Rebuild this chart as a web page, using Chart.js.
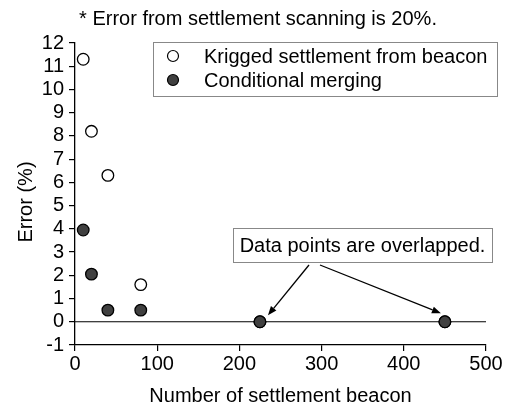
<!DOCTYPE html>
<html>
<head>
<meta charset="utf-8">
<script src="https://cdn.jsdelivr.net/npm/chart.js@4/dist/chart.umd.min.js"></script>
<style>
  html, body { margin: 0; padding: 0; background: #fff; }
  #wrap { width: 508px; height: 408px; position: relative; }
</style>
</head>
<body>
<div id="wrap"><canvas id="c" width="508" height="408"></canvas></div>
<script>
// Number of settlement beacons used for each estimate
const beaconCounts = [10, 20, 40, 80, 225, 450];
// Error (%) of kriged settlement from beacons
const krigedError = [11.3, 8.2, 6.3, 1.6, 0.0, 0.0];
// Error (%) of conditional merging
const mergingError = [3.95, 2.05, 0.5, 0.5, 0.0, 0.0];

const xTicks = [0, 100, 200, 300, 400, 500];
const yTicks = [-1, 0, 1, 2, 3, 4, 5, 6, 7, 8, 9, 10, 11, 12];

const seriesNames = ['Krigged settlement from beacon', 'Conditional merging'];
const noteText = '* Error from settlement scanning is 20%.';
const calloutText = 'Data points are overlapped.';
const yTitle = 'Error (%)';

const FONT = '"Liberation Sans", Arial, sans-serif';
const FONT_SIZE = 20;

const toPoints = (xs, ys) => xs.map((x, i) => ({ x: x, y: ys[i] }));

// Reference line at zero, note text, legend box and callout with arrows
const overlayPlugin = {
  id: 'overlay',
  beforeDatasetsDraw(chart) {
    const { ctx, chartArea, scales } = chart;
    const y0 = scales.y.getPixelForValue(0);
    ctx.save();
    ctx.strokeStyle = '#000';
    ctx.lineWidth = 1.1;
    ctx.beginPath();
    ctx.moveTo(chartArea.left, y0);
    ctx.lineTo(chartArea.right, y0);
    ctx.stroke();
    ctx.restore();
  },
  afterDraw(chart) {
    const { ctx, scales } = chart;
    ctx.save();
    ctx.font = FONT_SIZE + 'px ' + FONT;

    // note above the plot
    ctx.fillStyle = '#000';
    ctx.textAlign = 'center';
    ctx.textBaseline = 'middle';
    ctx.fillText(noteText, 258, 19);

    // y axis title
    ctx.save();
    ctx.translate(26, 202);
    ctx.rotate(-Math.PI / 2);
    ctx.fillText(yTitle, 0, 0);
    ctx.restore();

    // legend
    const lx = 153, ly = 42, lw = 344, lh = 54;
    ctx.fillStyle = '#fff';
    ctx.fillRect(lx, ly, lw, lh);
    ctx.strokeStyle = '#888';
    ctx.lineWidth = 1;
    ctx.strokeRect(lx + 0.5, ly + 0.5, lw, lh);
    chart.data.datasets.forEach((ds, i) => {
      const cy = ly + 14 + i * 24;
      ctx.beginPath();
      ctx.arc(lx + 20, cy, 5.5, 0, Math.PI * 2);
      ctx.fillStyle = ds.backgroundColor;
      ctx.fill();
      ctx.strokeStyle = '#000';
      ctx.lineWidth = 1.2;
      ctx.stroke();
      ctx.fillStyle = '#000';
      ctx.textAlign = 'left';
      ctx.textBaseline = 'middle';
      ctx.fillText(ds.label, lx + 51, cy + 1);
    });

    // callout box
    const bx = 233, by = 228, bw = 259, bh = 34;
    ctx.fillStyle = '#fff';
    ctx.fillRect(bx, by, bw, bh);
    ctx.strokeStyle = '#888';
    ctx.lineWidth = 1;
    ctx.strokeRect(bx + 0.5, by + 0.5, bw, bh);
    ctx.fillStyle = '#000';
    ctx.textAlign = 'center';
    ctx.textBaseline = 'middle';
    ctx.fillText(calloutText, bx + bw / 2, by + bh / 2 + 1);

    // arrows towards the overlapped points
    const arrow = (x1, y1, x2, y2) => {
      const ang = Math.atan2(y2 - y1, x2 - x1);
      const hl = 9, hw = 3.5;
      ctx.strokeStyle = '#000';
      ctx.fillStyle = '#000';
      ctx.lineWidth = 1.3;
      ctx.beginPath();
      ctx.moveTo(x1, y1);
      ctx.lineTo(x2 - Math.cos(ang) * hl, y2 - Math.sin(ang) * hl);
      ctx.stroke();
      ctx.beginPath();
      ctx.moveTo(x2, y2);
      ctx.lineTo(x2 - Math.cos(ang) * hl - Math.sin(ang) * hw, y2 - Math.sin(ang) * hl + Math.cos(ang) * hw);
      ctx.lineTo(x2 - Math.cos(ang) * hl + Math.sin(ang) * hw, y2 - Math.sin(ang) * hl - Math.cos(ang) * hw);
      ctx.closePath();
      ctx.fill();
    };
    const px1 = scales.x.getPixelForValue(beaconCounts[4]);
    const px2 = scales.x.getPixelForValue(beaconCounts[5]);
    const py = scales.y.getPixelForValue(0);
    arrow(309, 265, px1 + 8, py - 6.5);
    arrow(320, 265, px2 - 4, py - 8.5);

    ctx.restore();
  }
};

const axisFont = { family: FONT, size: FONT_SIZE };

new Chart(document.getElementById('c'), {
  type: 'scatter',
  data: {
    datasets: [
      {
        label: seriesNames[0],
        data: toPoints(beaconCounts, krigedError),
        backgroundColor: '#ffffff',
        borderColor: '#000000',
        borderWidth: 1.3,
        pointRadius: 5.8,
        pointHoverRadius: 5.8,
        order: 2
      },
      {
        label: seriesNames[1],
        data: toPoints(beaconCounts, mergingError),
        backgroundColor: '#404040',
        borderColor: '#000000',
        borderWidth: 1.3,
        pointRadius: 5.8,
        pointHoverRadius: 5.8,
        order: 1
      }
    ]
  },
  options: {
    responsive: false,
    animation: false,
    events: [],
    layout: { padding: { top: 43, right: 22, left: 0, bottom: 0 } },
    plugins: {
      legend: { display: false },
      tooltip: { enabled: false },
      title: { display: false }
    },
    scales: {
      x: {
        type: 'linear',
        min: 0,
        max: 500,
        afterBuildTicks(scale) { scale.ticks = xTicks.map(v => ({ value: v })); },
        afterFit(scale) { scale.height = 63; },
        grid: { drawOnChartArea: false, drawTicks: true, tickLength: 6, color: '#000', lineWidth: 1.2 },
        border: { display: true, color: '#000', width: 1.3 },
        ticks: { color: '#000', font: axisFont, padding: 1, maxRotation: 0, autoSkip: false },
        title: { display: true, text: 'Number of settlement beacon', color: '#000', font: axisFont, padding: { top: 4, bottom: 0 } }
      },
      y: {
        type: 'linear',
        min: -1,
        max: 12,
        afterBuildTicks(scale) { scale.ticks = yTicks.map(v => ({ value: v })); },
        afterFit(scale) { scale.width = 75; },
        grid: { drawOnChartArea: false, drawTicks: true, tickLength: 6, color: '#000', lineWidth: 1.2 },
        border: { display: true, color: '#000', width: 1.3 },
        ticks: { color: '#000', font: axisFont, padding: 5, autoSkip: false },
        title: { display: false }
      }
    }
  },
  plugins: [overlayPlugin]
});
</script>
</body>
</html>
